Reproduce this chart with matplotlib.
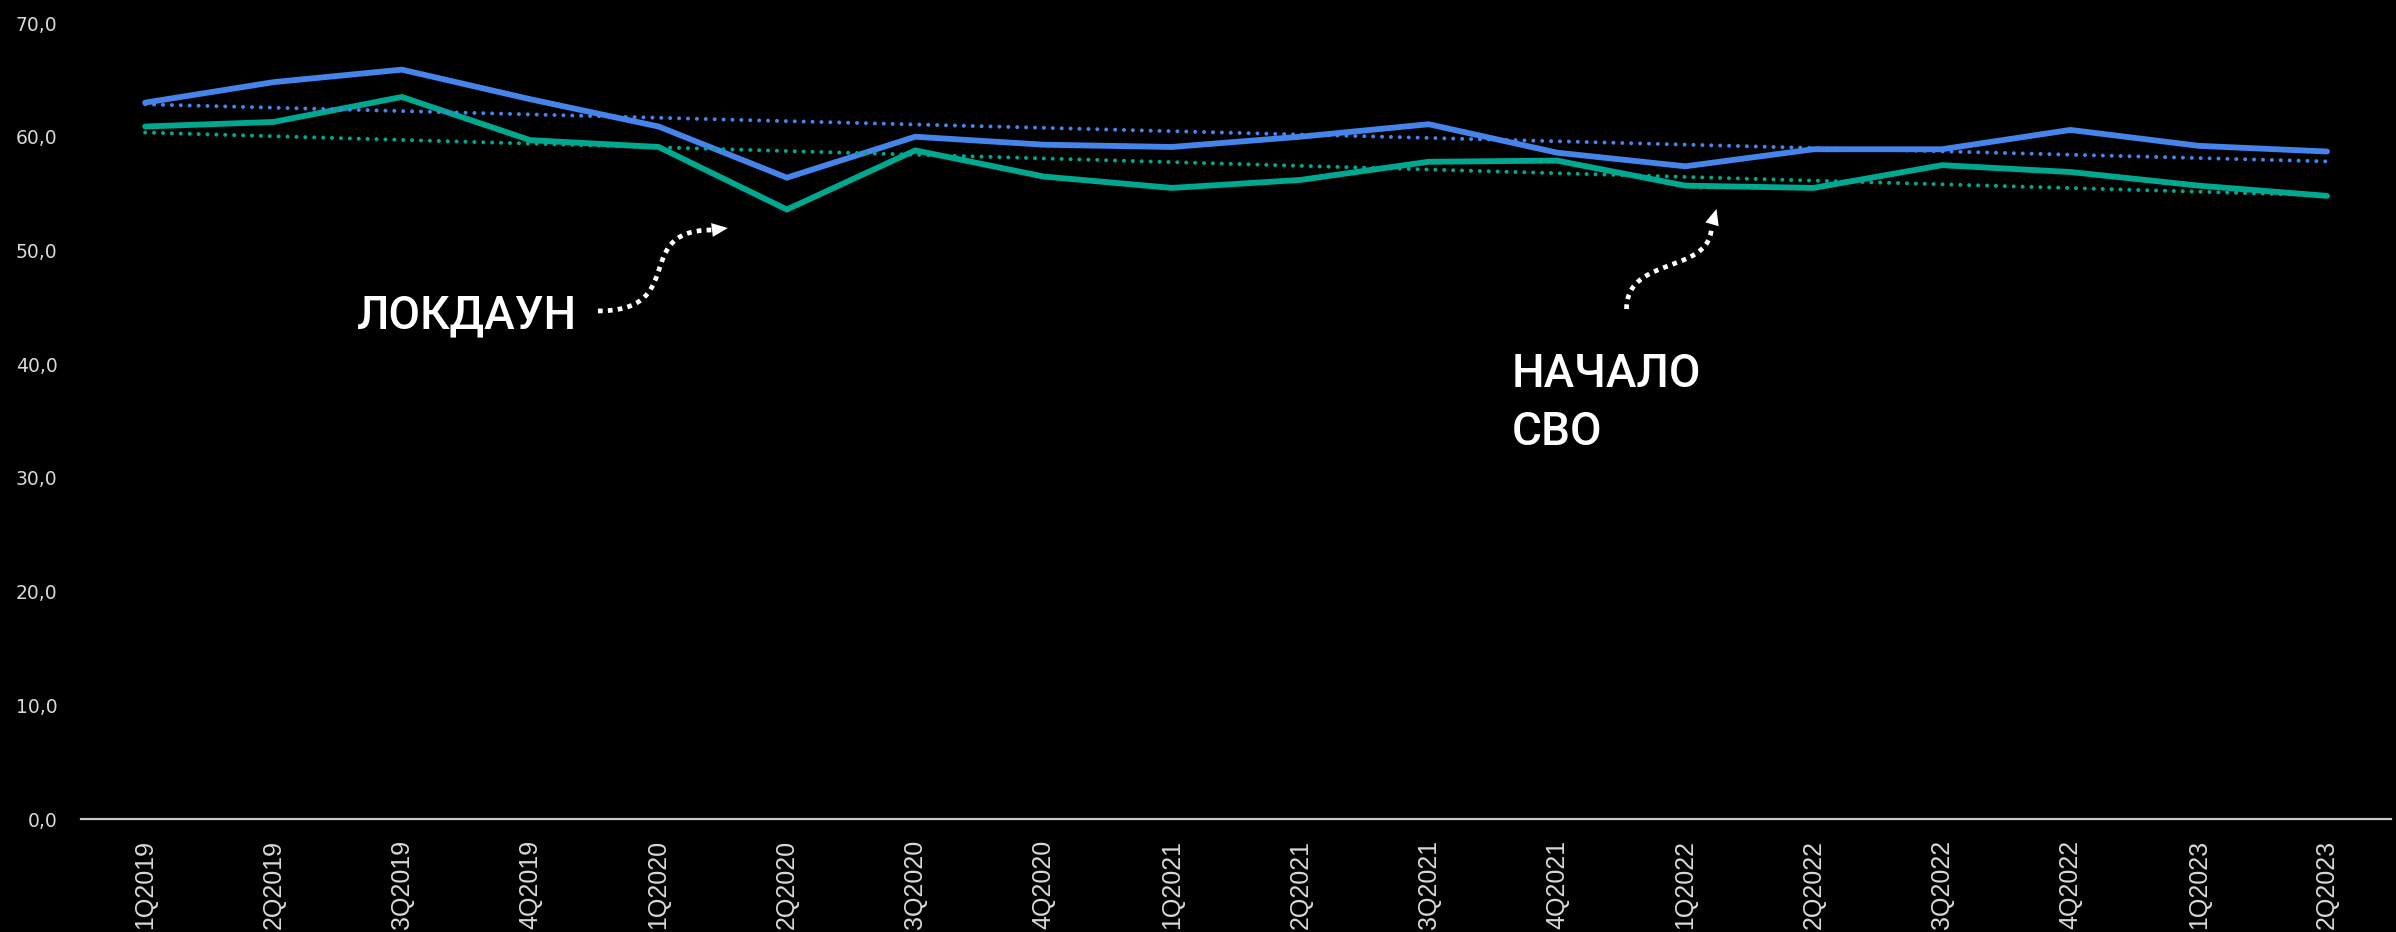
import numpy as np
import matplotlib
matplotlib.use("Agg")
import matplotlib.pyplot as plt
from matplotlib.patches import FancyArrowPatch

# данные
quarters = ["1Q2019", "2Q2019", "3Q2019", "4Q2019", "1Q2020", "2Q2020",
            "3Q2020", "4Q2020", "1Q2021", "2Q2021", "3Q2021", "4Q2021",
            "1Q2022", "2Q2022", "3Q2022", "4Q2022", "1Q2023", "2Q2023"]
blue_vals = [63.0, 64.8, 65.9, 63.3, 60.9, 56.4, 60.0, 59.3, 59.1,
             60.0, 61.1, 58.6, 57.4, 58.9, 58.9, 60.6, 59.2, 58.7]
green_vals = [60.9, 61.3, 63.5, 59.7, 59.1, 53.6, 58.8, 56.5, 55.5,
              56.2, 57.8, 57.9, 55.7, 55.5, 57.5, 56.9, 55.7, 54.8]
y_ticks = [0, 10, 20, 30, 40, 50, 60, 70]

blue = "#4584EA"
green = "#00A88F"
label_color = "#d9d9d9"

fig = plt.figure(figsize=(23.96, 9.32), dpi=100, facecolor="black")
ax = fig.add_axes([0.0338, 0.1212, 0.9642, 0.8541])
ax.set_facecolor("black")

x = np.arange(len(quarters))

# основные линии
ax.plot(x, blue_vals, color=blue, lw=4.2, solid_capstyle="round", solid_joinstyle="miter", zorder=3)
ax.plot(x, green_vals, color=green, lw=4.2, solid_capstyle="round", solid_joinstyle="miter", zorder=3)

# линии тренда
for vals, col in [(blue_vals, blue), (green_vals, green)]:
    k, b = np.polyfit(x, vals, 1)
    ax.plot(x, k * x + b, color=col, lw=2.9, dashes=(0.01, 2.2),
            dash_capstyle="round", zorder=4)

ax.set_xlim(-0.5, len(quarters) - 0.5)
ax.set_ylim(0, 70)
ax.set_yticks(y_ticks)
ax.set_yticklabels([f"{v:.1f}".replace(".", ",") for v in y_ticks])
ax.set_xticks(x)
ax.set_xticklabels(quarters, rotation=90, va="top", ha="center")

for s in ["top", "right", "left"]:
    ax.spines[s].set_visible(False)
ax.spines["bottom"].set_color("#c8c8c8")
ax.spines["bottom"].set_linewidth(1.6)

ax.tick_params(axis="y", length=0, pad=17, labelsize=13.5, labelcolor=label_color)
ax.tick_params(axis="x", length=0, pad=15, labelsize=18, labelcolor=label_color)
for t in ax.get_xticklabels():
    t.set_fontfamily("Liberation Sans")

# подписи
txt = dict(color="white", fontsize=33, family="Roboto", fontweight="medium", va="baseline", ha="left")
ax.text(1.651, 43.18, "ЛОКДАУН", **txt)
ax.text(10.646, 37.99, "НАЧАЛО", **txt)
ax.text(10.646, 32.89, "СВО", **txt)


def dotted_arrow(p0, p1, p2, p3, tip):
    t = np.linspace(0, 1, 200)[:, None]
    pts = ((1 - t) ** 3 * np.array(p0) + 3 * (1 - t) ** 2 * t * np.array(p1)
           + 3 * (1 - t) * t ** 2 * np.array(p2) + t ** 3 * np.array(p3))
    ax.plot(pts[:, 0], pts[:, 1], color="white", lw=3.4, dashes=(1, 1.1),
            dash_capstyle="butt", zorder=5)
    head = FancyArrowPatch(posA=p3, posB=tip, arrowstyle="-|>,head_length=1.15,head_width=0.5",
                           mutation_scale=10, color="white", lw=0, shrinkA=0, shrinkB=0, zorder=5)
    ax.add_patch(head)


dotted_arrow((3.528, 44.68), (4.245, 44.68), (3.777, 51.80), (4.416, 51.80), (4.540, 51.97))
dotted_arrow((11.542, 44.85), (11.542, 49.60), (12.204, 47.84), (12.204, 52.15), (12.243, 53.65))

fig.savefig("out.png", dpi=100, facecolor="black")
